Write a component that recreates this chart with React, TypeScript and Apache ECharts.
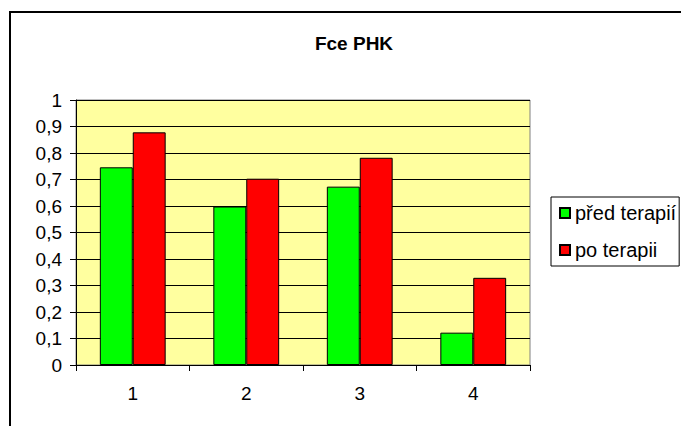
import React, { useEffect, useRef } from "react";
import * as echarts from "echarts";

const categories = ["1", "2", "3", "4"];
const predTerapii = [0.746, 0.598, 0.673, 0.122];
const poTerapii = [0.878, 0.703, 0.782, 0.329];
const seriesNames = ["před terapií", "po terapii"];

const FONT = "Arial, 'Liberation Sans', sans-serif";

export default function App() {
  const ref = useRef<HTMLDivElement>(null);

  useEffect(() => {
    if (!ref.current) return;
    const chart = echarts.init(ref.current, undefined, { renderer: "svg" });
    chart.setOption({
      animation: false,
      backgroundColor: "#ffffff",
      title: {
        text: "Fce PHK",
        left: 349,
        top: 29,
        textAlign: "center",
        textStyle: { fontFamily: FONT, fontSize: 19, fontWeight: "bold", color: "#000" },
      },
      graphic: [
        {
          type: "rect",
          shape: { x: 10, y: 12, width: 720, height: 460 },
          style: { fill: "none", stroke: "#000", lineWidth: 2 },
          silent: true,
        },
      ],
      legend: {
        orient: "vertical",
        left: 551,
        top: 197,
        data: seriesNames,
        icon: "rect",
        itemWidth: 10,
        itemHeight: 10,
        itemGap: 17,
        padding: [6, 3, 6, 8],
        backgroundColor: "#ffffff",
        borderColor: "#000",
        borderWidth: 1,
        borderRadius: 0,
        textStyle: { fontFamily: FONT, fontSize: 20, color: "#000", lineHeight: 20 },
      },
      grid: {
        left: 76,
        top: 100,
        width: 454,
        height: 265,
        show: true,
        backgroundColor: "#FFFF9F",
        borderColor: "#808080",
        borderWidth: 1,
      },
      xAxis: {
        type: "category",
        data: categories,
        axisLine: { lineStyle: { color: "#000", width: 1 } },
        axisTick: { show: true, length: 6, lineStyle: { color: "#000" } },
        axisLabel: { fontFamily: FONT, fontSize: 19, color: "#000", margin: 19 },
      },
      yAxis: {
        type: "value",
        min: 0,
        max: 1,
        interval: 0.1,
        axisLine: { show: true, lineStyle: { color: "#000", width: 1 } },
        axisTick: { show: true, length: 6, lineStyle: { color: "#000" } },
        splitLine: { show: true, lineStyle: { color: "#000", width: 1 } },
        axisLabel: {
          fontFamily: FONT,
          fontSize: 19,
          color: "#000",
          margin: 14,
          formatter: (v: number) => String(Math.round(v * 10) / 10).replace(".", ","),
        },
      },
      series: [
        {
          name: seriesNames[0],
          type: "bar",
          data: predTerapii,
          barGap: "0%",
          barCategoryGap: "42%",
          itemStyle: { color: "#00FF00", borderColor: "#000", borderWidth: 1 },
        },
        {
          name: seriesNames[1],
          type: "bar",
          data: poTerapii,
          barGap: "0%",
          barCategoryGap: "42%",
          itemStyle: { color: "#FF0000", borderColor: "#000", borderWidth: 1 },
        },
      ],
    });
    return () => chart.dispose();
  }, []);

  return (
    <div
      ref={ref}
      style={{ position: "fixed", left: 0, top: 0, width: 681, height: 426 }}
    />
  );
}
